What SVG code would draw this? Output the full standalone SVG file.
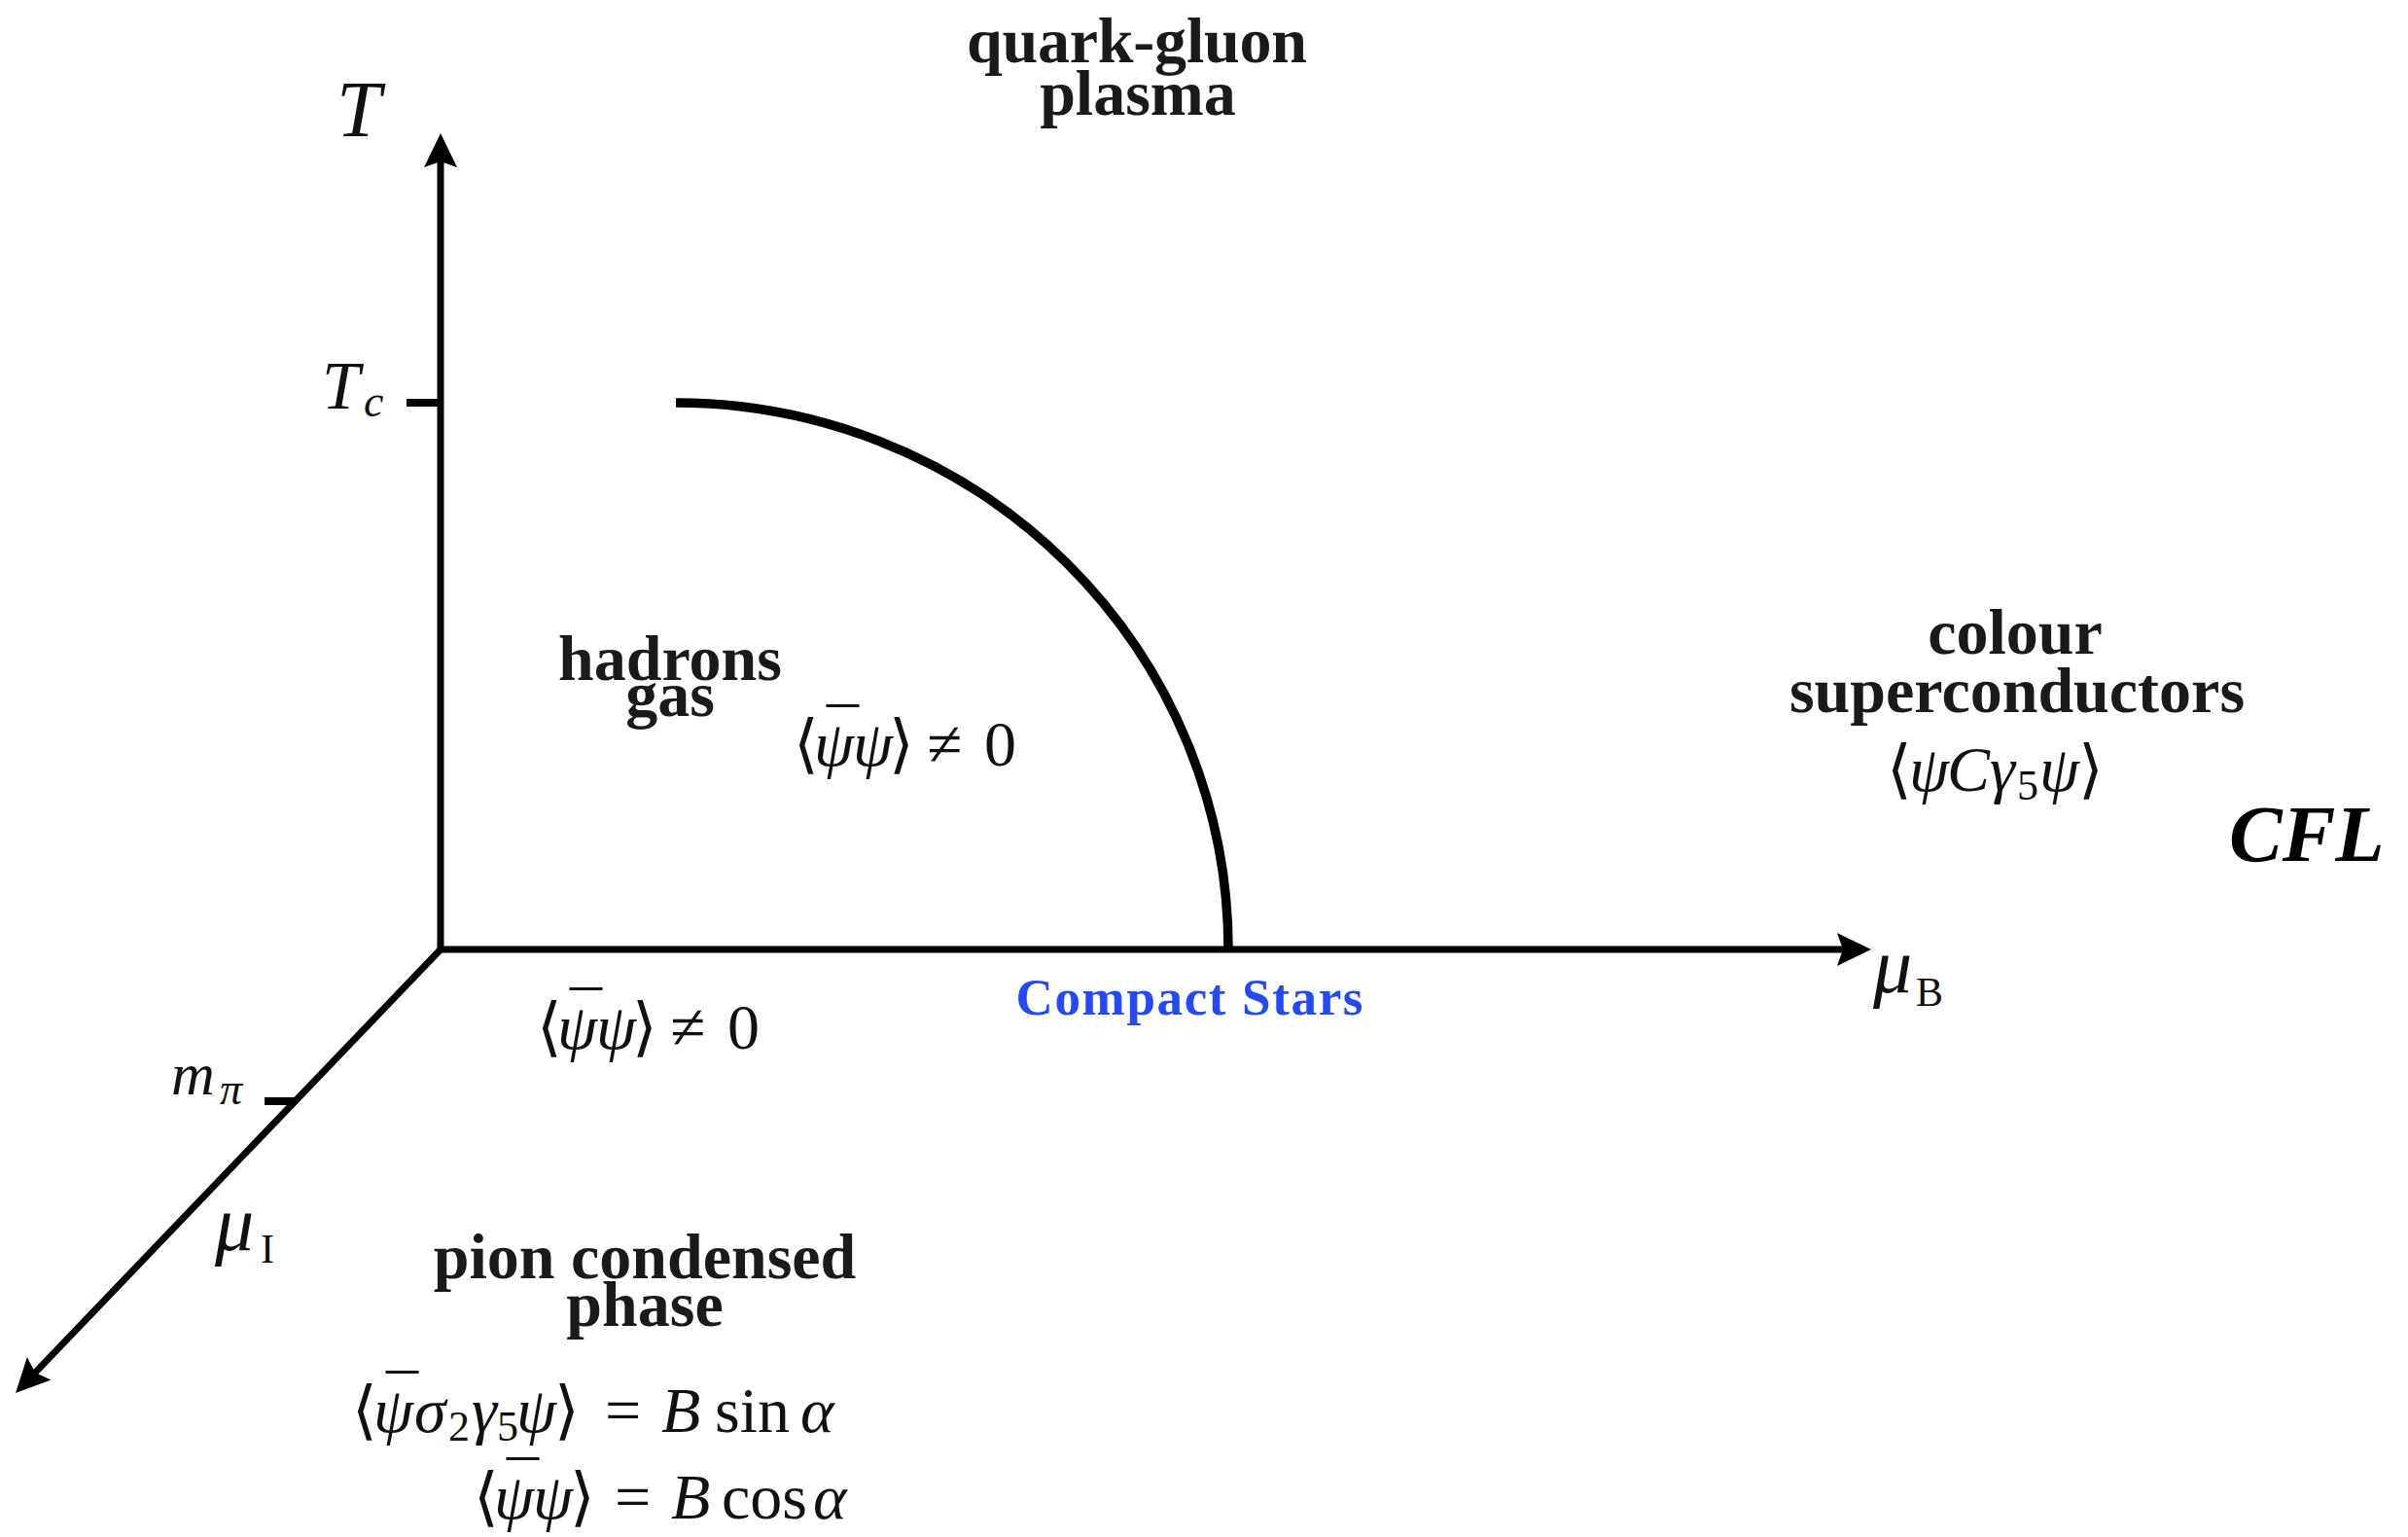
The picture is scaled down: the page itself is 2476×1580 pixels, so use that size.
<svg xmlns="http://www.w3.org/2000/svg" width="2476" height="1580" viewBox="0 0 2476 1580">
<style>
.bold{font-family:"Liberation Serif","DejaVu Serif",serif;font-weight:bold;font-size:66px;fill:#1a1a1a;text-anchor:middle}
.m{font-family:"Liberation Serif","DejaVu Serif",serif;fill:#111}
.f{font-size:66px}
.i{font-style:italic}
.s{font-size:44px}
.bar{font-size:66px}
.axis{fill:none;stroke:#000;stroke-width:7}
.tick{stroke:#000;stroke-width:8}
</style>
<defs>
<marker id="arr" markerUnits="userSpaceOnUse" markerWidth="40" markerHeight="36" viewBox="-36 -18 40 36" refX="-12" refY="0" orient="auto">
<path d="M0,0 L-35,-17 L-29,0 L-35,17 Z" fill="#000"/>
</marker>
</defs>
<rect width="2476" height="1580" fill="#fff"/>
<g id="connectors">
<path class="axis" d="M453,979 V149" marker-end="url(#arr)"/>
<path class="axis" d="M450,976 H1912" marker-end="url(#arr)"/>
<path class="axis" d="M453,976 L24.3,1423.3" marker-end="url(#arr)"/>
<line class="tick" x1="418" y1="414" x2="453" y2="414"/>
<line class="tick" x1="272" y1="1132" x2="304" y2="1132"/>
<path id="transition-line" d="M695,414 A568,562 0 0 1 1263,976" fill="none" stroke="#000" stroke-width="9.5"/>
</g>
<g id="axis-T"><text class="m i" x="346" y="140" style="font-size:82px">T</text></g>
<g id="tick-Tc"><text class="m i" x="331" y="420" style="font-size:70px">T</text><text class="m i" x="374" y="428" style="font-size:46px">c</text></g>
<g id="axis-muB"><text class="m i" x="1926" y="1020" style="font-size:80px">μ</text><text class="m" x="1970" y="1034" style="font-size:42px">B</text></g>
<g id="axis-muI"><text class="m i" x="221" y="1285" style="font-size:80px">μ</text><text class="m" x="268" y="1298" style="font-size:42px">I</text></g>
<g id="tick-mpi"><text class="m i" x="176" y="1125" style="font-size:62px">m</text><text class="m i" x="226" y="1135" style="font-size:46px">π</text></g>
<g id="qgp"><text class="bold" x="1169" y="64" textLength="350">quark-gluon</text><text class="bold" x="1170" y="118">plasma</text></g>
<g id="hadrons"><text class="bold" x="689" y="699">hadrons</text><text class="bold" x="689" y="736">gas</text>
<text class="m f" y="787"><tspan x="816">⟨</tspan><tspan class="i" x="837">ψ</tspan><tspan x="850" dy="-13">¯</tspan><tspan class="i" x="877" dy="13">ψ</tspan><tspan x="914">⟩</tspan><tspan x="953">≠</tspan><tspan x="1012">0</tspan></text></g>
<g id="vacuum"><text class="m f" y="1078"><tspan x="552">⟨</tspan><tspan class="i" x="573">ψ</tspan><tspan x="586" dy="-13">¯</tspan><tspan class="i" x="613" dy="13">ψ</tspan><tspan x="650">⟩</tspan><tspan x="689">≠</tspan><tspan x="748">0</tspan></text></g>
<g id="compact-stars"><text class="bold" x="1223" y="1043" style="font-size:53px;fill:#2349ff" textLength="357">Compact Stars</text></g>
<g id="colour-sc"><text class="bold" x="2072" y="672">colour</text><text class="bold" x="2074" y="732">superconductors</text>
<text class="m f" y="813"><tspan x="1940">⟨</tspan><tspan class="i" x="1963">ψ</tspan><tspan class="i" x="2002">C</tspan><tspan class="i" x="2046">γ</tspan><tspan class="s" x="2074" dy="9">5</tspan><tspan class="i" x="2097" dy="-9">ψ</tspan><tspan x="2137">⟩</tspan></text></g>
<g id="cfl"><text x="2292" y="885" font-family="Liberation Serif, serif" font-weight="bold" font-style="italic" font-size="82" fill="#000">CFL</text></g>
<g id="pion"><text class="bold" x="663" y="1314">pion condensed</text><text class="bold" x="663" y="1363">phase</text>
<text class="m f" y="1472"><tspan x="362">⟨</tspan><tspan class="i" x="384">ψ</tspan><tspan x="397" dy="-13">¯</tspan><tspan class="i" x="426" dy="13">σ</tspan><tspan class="s" x="461" dy="9">2</tspan><tspan class="i" x="485" dy="-9">γ</tspan><tspan class="s" x="511" dy="9">5</tspan><tspan class="i" x="531" dy="-9">ψ</tspan><tspan x="570">⟩</tspan><tspan x="622">=</tspan><tspan class="i" x="680">B</tspan><tspan x="735">sin</tspan><tspan class="i" x="823">α</tspan></text>
<text class="m f" y="1561"><tspan x="487">⟨</tspan><tspan class="i" x="508">ψ</tspan><tspan x="521" dy="-13">¯</tspan><tspan class="i" x="548" dy="13">ψ</tspan><tspan x="586">⟩</tspan><tspan x="632">=</tspan><tspan class="i" x="690">B</tspan><tspan x="742">cos</tspan><tspan class="i" x="836">α</tspan></text></g>
</svg>
